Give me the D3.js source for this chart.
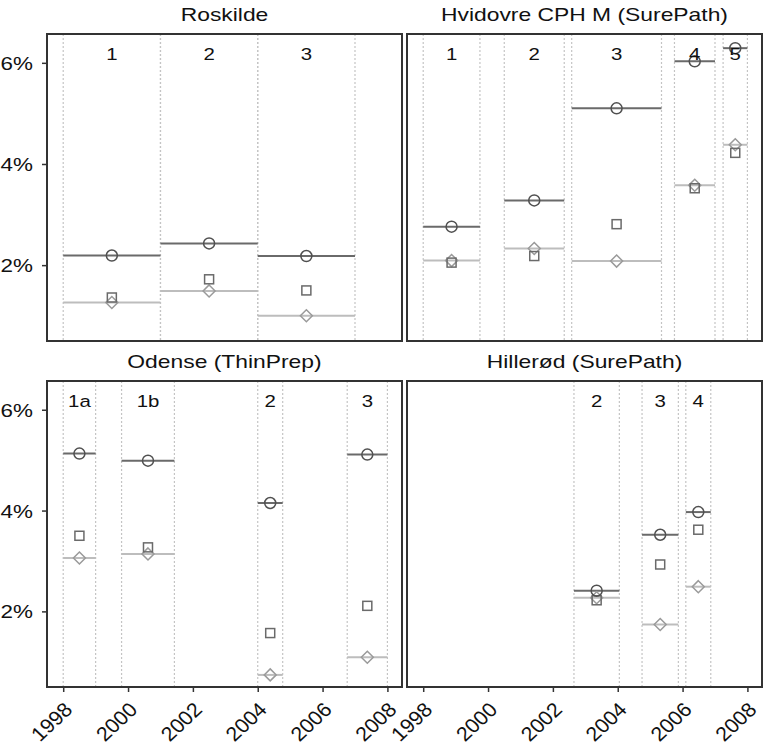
<!DOCTYPE html>
<html lang="en">
<head>
  <meta charset="UTF-8">
  <title>Screening periods</title>
  <script src="https://d3js.org/d3.v7.min.js"></script>
  <style>
    body {
      margin: 0;
      background: white;
    }
    text {
      font-family: "Liberation Sans", Arial, sans-serif;
      fill: #111;
    }
  </style>
</head>
<body>
  <script>
    const width = 766;
    const height = 751;

    // data
    const panelTitles = ["Roskilde", "Hvidovre CPH M (SurePath)", "Odense (ThinPrep)", "Hillerød (SurePath)"];
    const periodLabels = [
      ["1", "2", "3"],
      ["1", "2", "3", "4", "5"],
      ["1a", "1b", "2", "3"],
      ["2", "3", "4"]
    ];
    const periodStart = [
      [1998, 2001, 2004],
      [1998, 2000.5, 2002.58, 2005.75, 2007.25],
      [1998, 1999.8, 2004, 2006.76],
      [2002.65, 2004.75, 2006.1]
    ];
    const periodEnd = [
      [2001, 2004, 2007],
      [1999.75, 2002.35, 2005.35, 2007.0, 2008.0],
      [1999, 2001.43, 2004.77, 2008.0],
      [2004.05, 2005.87, 2006.87]
    ];
    const circleValues = [
      [2.19, 2.43, 2.18],
      [2.76, 3.28, 5.10, 6.03, 6.29],
      [5.13, 4.99, 4.15, 5.11],
      [2.41, 3.52, 3.97]
    ];
    const squareValues = [
      [1.36, 1.72, 1.50],
      [2.05, 2.18, 2.81, 3.52, 4.22],
      [3.50, 3.27, 1.57, 2.11],
      [2.22, 2.93, 3.62]
    ];
    const diamondValues = [
      [1.26, 1.49, 1.00],
      [2.09, 2.33, 2.08, 3.58, 4.38],
      [3.06, 3.14, 0.74, 1.09],
      [2.27, 1.74, 2.49]
    ];
    const yTicks = [2, 4, 6];
    const xTicks = [1998, 2000, 2002, 2004, 2006, 2008];

    const panelBoxes = [
      { x0: 47, x1: 402, y0: 34, y1: 341 },
      { x0: 407, x1: 762, y0: 34, y1: 341 },
      { x0: 47, x1: 402, y0: 381, y1: 687 },
      { x0: 407, x1: 762, y0: 381, y1: 687 }
    ];

    const svg = d3.select("body")
      .append("svg")
      .attr("width", width)
      .attr("height", height);

    // the original lettering is wide, so stretch it horizontally
    function stretchedText(x, y, str, size, anchor, sx) {
      svg.append("g")
        .attr("transform", `translate(${x},${y}) scale(${sx},1)`)
        .append("text")
        .attr("text-anchor", anchor)
        .attr("font-size", size)
        .text(str);
    }

    panelBoxes.forEach((box, p) => {
      const x = d3.scaleLinear().domain([1997.5, 2008.45]).range([box.x0, box.x1]);
      const y = d3.scaleLinear().domain([0.5, 6.57]).range([box.y1, box.y0]);
      const g = svg.append("g");

      const periods = periodLabels[p].map((lab, i) => ({
        label: lab,
        start: periodStart[p][i],
        end: periodEnd[p][i],
        mid: (periodStart[p][i] + periodEnd[p][i]) / 2,
        circle: circleValues[p][i],
        square: squareValues[p][i],
        diamond: diamondValues[p][i]
      }));

      // period boundaries
      const bounds = [];
      periods.forEach(d => { bounds.push(d.start, d.end); });
      g.selectAll("line.bound")
        .data(bounds)
        .enter()
        .append("line")
        .attr("x1", d => x(d))
        .attr("x2", d => x(d))
        .attr("y1", box.y0)
        .attr("y2", box.y1)
        .attr("stroke", "#c4c4c4")
        .attr("stroke-width", 1.2)
        .attr("stroke-dasharray", "2,2");

      // horizontal level lines
      g.selectAll("line.dia")
        .data(periods)
        .enter()
        .append("line")
        .attr("x1", d => x(d.start))
        .attr("x2", d => x(d.end))
        .attr("y1", d => y(d.diamond))
        .attr("y2", d => y(d.diamond))
        .attr("stroke", "#bdbdbd")
        .attr("stroke-width", 2);

      g.selectAll("line.circ")
        .data(periods)
        .enter()
        .append("line")
        .attr("x1", d => x(d.start))
        .attr("x2", d => x(d.end))
        .attr("y1", d => y(d.circle))
        .attr("y2", d => y(d.circle))
        .attr("stroke", "#6a6a6a")
        .attr("stroke-width", 2);

      // markers
      g.selectAll("path.dia")
        .data(periods)
        .enter()
        .append("path")
        .attr("d", d => {
          const cx = x(d.mid), cy = y(d.diamond);
          return `M${cx},${cy - 6}L${cx + 6},${cy}L${cx},${cy + 6}L${cx - 6},${cy}Z`;
        })
        .attr("fill", "none")
        .attr("stroke", "#9a9a9a")
        .attr("stroke-width", 1.5);

      g.selectAll("rect.sq")
        .data(periods)
        .enter()
        .append("rect")
        .attr("x", d => x(d.mid) - 4.5)
        .attr("y", d => y(d.square) - 4.5)
        .attr("width", 9)
        .attr("height", 9)
        .attr("fill", "none")
        .attr("stroke", "#6a6a6a")
        .attr("stroke-width", 1.5);

      g.selectAll("circle")
        .data(periods)
        .enter()
        .append("circle")
        .attr("cx", d => x(d.mid))
        .attr("cy", d => y(d.circle))
        .attr("r", 5.5)
        .attr("fill", "none")
        .attr("stroke", "#505050")
        .attr("stroke-width", 1.5);

      // period labels
      periods.forEach(d => {
        stretchedText(x(d.mid), box.y0 + 26, d.label, 17, "middle", 1.2);
      });

      // frame
      g.append("rect")
        .attr("x", box.x0)
        .attr("y", box.y0)
        .attr("width", box.x1 - box.x0)
        .attr("height", box.y1 - box.y0)
        .attr("fill", "none")
        .attr("stroke", "#333")
        .attr("stroke-width", 2);

      stretchedText((box.x0 + box.x1) / 2, box.y0 - 13, panelTitles[p], 18, "middle", 1.27);

      // y axis on the left panels
      if (p % 2 === 0) {
        const ya = svg.append("g")
          .attr("transform", `translate(${box.x0 - 1},0)`)
          .call(d3.axisLeft(y).tickValues(yTicks).tickSize(4).tickFormat(""));
        ya.select(".domain").remove();
        ya.selectAll(".tick line").attr("stroke", "#333").attr("stroke-width", 1.5);
        yTicks.forEach(t => {
          stretchedText(33, y(t) + 7, t + "%", 19, "end", 1.18);
        });
      }

      // x axis on the bottom panels
      if (p >= 2) {
        const xa = svg.append("g")
          .attr("transform", `translate(0,${box.y1 + 1})`)
          .call(d3.axisBottom(x).tickValues(xTicks).tickSize(4).tickFormat(d3.format("d")));
        xa.select(".domain").remove();
        xa.selectAll(".tick line").attr("stroke", "#333").attr("stroke-width", 1.5);
        xa.selectAll(".tick text")
          .attr("font-size", 20)
          .attr("fill", "#111")
          .attr("text-anchor", "end")
          .attr("x", 0)
          .attr("y", 0)
          .attr("dy", 0)
          .attr("transform", "translate(10,23) scale(1.07,1) rotate(-45)");
      }
    });
  </script>
</body>
</html>
